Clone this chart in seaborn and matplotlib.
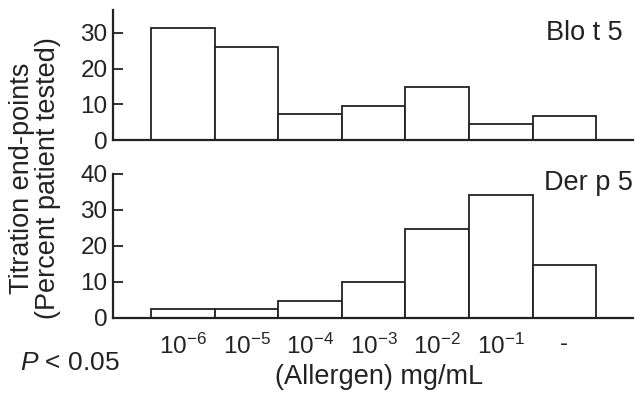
import matplotlib
matplotlib.use("Agg")
import matplotlib.pyplot as plt
import seaborn as sns
import pandas as pd

categories = ["1e-6", "1e-5", "1e-4", "1e-3", "1e-2", "1e-1", "neg"]
tick_labels = [r"$10^{-6}$", r"$10^{-5}$", r"$10^{-4}$", r"$10^{-3}$", r"$10^{-2}$", r"$10^{-1}$", "-"]
blo_t5 = [31.3, 26.0, 7.4, 9.5, 14.9, 4.6, 6.8]
der_p5 = [2.6, 2.6, 4.8, 10.0, 24.8, 34.3, 14.8]
top_yticks = [0, 10, 20, 30]
bottom_yticks = [0, 10, 20, 30, 40]

sns.set_theme(style="ticks")
plt.rcParams["font.family"] = ["Liberation Sans", "DejaVu Sans"]
plt.rcParams["mathtext.fontset"] = "custom"
plt.rcParams["mathtext.rm"] = "Liberation Sans"
plt.rcParams["mathtext.it"] = "Liberation Sans:italic"
plt.rcParams["mathtext.bf"] = "Liberation Sans:bold"

W, H = 635, 396
fig = plt.figure(figsize=(W / 100, H / 100), dpi=100)

def frac_axes(x0, x1, ytop, ybot):
    return fig.add_axes([x0 / W, 1 - ybot / H, (x1 - x0) / W, (ybot - ytop) / H])

ax1 = frac_axes(113, 633, 10, 140)
ax2 = frac_axes(113, 633, 174, 318)

fs = 17.5
lfs = 19.5
ink = "#222222"
for ax, vals, yt, ymax, name, tx, ty in [
    (ax1, blo_t5, top_yticks, 36.4, "Blo t 5", 0.981, 0.82),
    (ax2, der_p5, bottom_yticks, 40, "Der p 5", 1.0, 0.94),
]:
    df = pd.DataFrame({"cat": categories, "val": vals})
    sns.barplot(data=df, x="cat", y="val", color="white", edgecolor=ink,
                linewidth=1.3, width=1.0, saturation=1, ax=ax)
    ax.set_xlim(-1.1, 7.08)
    ax.set_ylim(0, ymax)
    ax.set_yticks(yt)
    ax.set_yticklabels([str(v) for v in yt], fontsize=fs)
    ax.set_xlabel("")
    ax.set_ylabel("")
    sns.despine(ax=ax)
    for s in ["left", "bottom"]:
        ax.spines[s].set_linewidth(1.6)
        ax.spines[s].set_color(ink)
    ax.tick_params(axis="y", direction="in", length=7, width=1.3, pad=4, colors=ink)
    ax.tick_params(axis="x", length=0)
    ax.set_facecolor("white")
    ax.text(tx, ty, name, transform=ax.transAxes, ha="right", va="center",
            fontsize=lfs, color=ink)

ax1.set_xticks(range(len(categories)))
ax1.set_xticklabels([])
ax2.set_xticks(range(len(categories)))
ax2.set_xticklabels(tick_labels, fontsize=fs, color=ink)
ax2.tick_params(axis="x", pad=11)

fig.text(35 / W, 1 - 178 / H, "Titration end-points\n(Percent patient tested)",
         rotation=90, ha="center", va="center", fontsize=lfs, linespacing=1.0, color=ink)
fig.text(20 / W, 1 - 363 / H, r"$P$ < 0.05", ha="left", va="center", fontsize=lfs - 0.5, color=ink)
fig.text(379 / W, 1 - 377 / H, "(Allergen) mg/mL", ha="center", va="center", fontsize=lfs, color=ink)

fig.savefig("out.png", dpi=100)
